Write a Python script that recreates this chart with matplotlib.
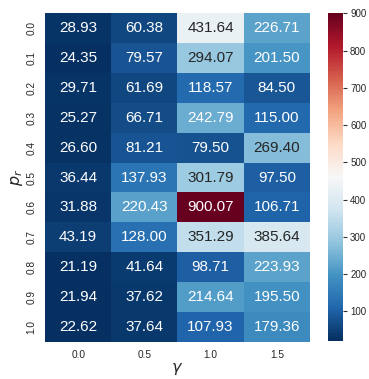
import numpy as np
import matplotlib
matplotlib.use("Agg")
import matplotlib.pyplot as plt
import seaborn as sns

gammas = ["0.0", "0.5", "1.0", "1.5"]
p_r = ["0.0", "0.1", "0.2", "0.3", "0.4", "0.5", "0.6", "0.7", "0.8", "0.9", "1.0"]

col_g00 = [28.93, 24.35, 29.71, 25.27, 26.60, 36.44, 31.88, 43.19, 21.19, 21.94, 22.62]
col_g05 = [60.38, 79.57, 61.69, 66.71, 81.21, 137.93, 220.43, 128.00, 41.64, 37.62, 37.64]
col_g10 = [431.64, 294.07, 118.57, 242.79, 79.50, 301.79, 900.07, 351.29, 98.71, 214.64, 107.93]
col_g15 = [226.71, 201.50, 84.50, 115.00, 269.40, 97.50, 106.71, 385.64, 223.93, 195.50, 179.36]

data = np.array([col_g00, col_g05, col_g10, col_g15]).T

sns.set_theme(style="white")
plt.rcParams["font.family"] = ["Liberation Sans", "DejaVu Sans"]

fig = plt.figure(figsize=(3.69, 3.79), dpi=100)
ax = fig.add_axes([0.122, 0.0976, 0.718, 0.868])
cax = fig.add_axes([0.888, 0.101, 0.042, 0.864])

sns.heatmap(data, ax=ax, cbar_ax=cax, cmap="RdBu_r", annot=True, fmt=".2f",
            annot_kws={"fontsize": 11}, xticklabels=gammas, yticklabels=p_r)

ax.set_xlabel(r"$\gamma$", fontsize=11.5, labelpad=1)
ax.set_ylabel(r"$p_r$", fontsize=11.5, labelpad=1)
ax.tick_params(axis="x", labelsize=7.3, length=0, pad=5.5)
ax.tick_params(axis="y", labelsize=7.3, length=0, pad=6)
plt.setp(ax.get_yticklabels(), rotation=90, va="center")
plt.setp(ax.get_xticklabels(), rotation=0)

cax.set_yticks([100, 200, 300, 400, 500, 600, 700, 800, 900])
cax.tick_params(labelsize=7, length=3, width=0.8, color="#333333", right=True, pad=2)

fig.savefig("out.png", dpi=100)
